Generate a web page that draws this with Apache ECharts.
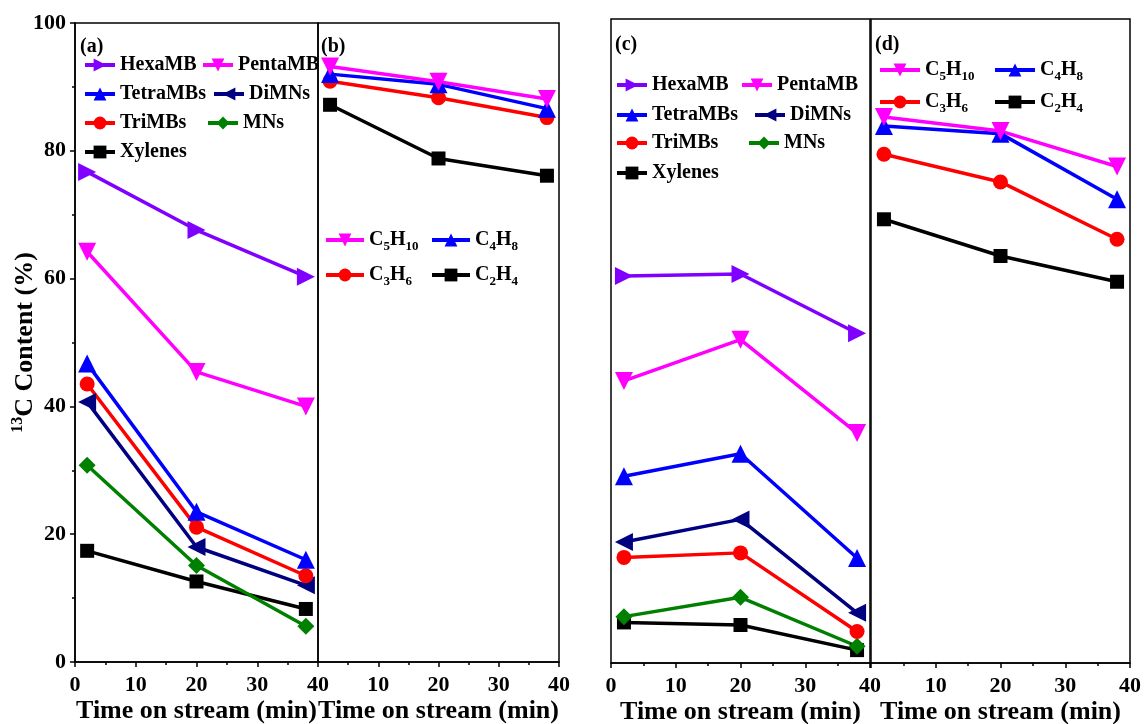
<!DOCTYPE html>
<html>
<head>
<meta charset="utf-8">
<script src="https://cdn.jsdelivr.net/npm/echarts@6/dist/echarts.min.js"></script>
<style>html,body{margin:0;padding:0;background:#fff;}#main{width:1147px;height:724px;}</style>
</head>
<body>
<div id="main"></div>
<script>
// ---- data ----
const timeMin = [2, 20, 38];
const xTicks = [0, 10, 20, 30, 40];
const yTicks = [0, 20, 40, 60, 80, 100];
// panel (a)
const hexaA = [76.7, 67.6, 60.3];
const pentaA = [64.2, 45.4, 40.0];
const tetraA = [46.7, 23.5, 16.0];
const diA = [40.7, 18.0, 12.0];
const triA = [43.5, 21.1, 13.5];
const mnA = [30.8, 15.1, 5.6];
const xylA = [17.4, 12.6, 8.3];
// panel (b)
const c5B = [93.2, 90.8, 88.1];
const c4B = [92.0, 90.4, 86.6];
const c3B = [90.9, 88.3, 85.2];
const c2B = [87.2, 78.8, 76.1];
// panel (c)
const hexaC = [60.1, 60.4, 51.2];
const pentaC = [43.8, 50.2, 35.7];
const tetraC = [29.0, 32.5, 16.3];
const diC = [18.8, 22.3, 7.8];
const triC = [16.4, 17.1, 4.9];
const mnC = [7.2, 10.2, 2.6];
const xylC = [6.3, 5.9, 2.0];
// panel (d)
const c5D = [84.8, 82.6, 77.1];
const c4D = [83.4, 82.2, 72.0];
const c3D = [79.0, 74.7, 65.8];
const c2D = [68.9, 63.2, 59.2];

const aromNames = ['HexaMB', 'PentaMB', 'TetraMBs', 'DiMNs', 'TriMBs', 'MNs', 'Xylenes'];
const olefNames = ['C5H10', 'C4H8', 'C3H6', 'C2H4'];
const panelLabels = ['(a)', '(b)', '(c)', '(d)'];
const xName = 'Time on stream (min)';

// ---- styles ----
const FONT = "'Liberation Serif','Times New Roman',serif";
const SYM = {
  right: 'path://M0,0L10,5L0,10Z',
  left: 'path://M10,0L0,5L10,10Z',
  down: 'path://M0,0L10,0L5,10Z',
  up: 'path://M5,0L10,10L0,10Z',
  circle: 'circle',
  diamond: 'diamond',
  square: 'rect'
};
const style = {
  HexaMB: {color: '#8000ff', symbol: SYM.right, size: 18},
  PentaMB: {color: '#ff00ff', symbol: SYM.down, size: 18},
  TetraMBs: {color: '#0000ff', symbol: SYM.up, size: 18},
  DiMNs: {color: '#000080', symbol: SYM.left, size: 18},
  TriMBs: {color: '#ff0000', symbol: SYM.circle, size: 15},
  MNs: {color: '#008000', symbol: SYM.diamond, size: 17},
  Xylenes: {color: '#000000', symbol: SYM.square, size: 14},
  C5H10: {color: '#ff00ff', symbol: SYM.down, size: 18},
  C4H8: {color: '#0000ff', symbol: SYM.up, size: 18},
  C3H6: {color: '#ff0000', symbol: SYM.circle, size: 15},
  C2H4: {color: '#000000', symbol: SYM.square, size: 14}
};

const grids = [
  {left: 75, top: 23, width: 243, height: 639},
  {left: 318, top: 23, width: 241, height: 639},
  {left: 611, top: 19, width: 259, height: 644},
  {left: 871, top: 19, width: 259, height: 644}
];

function series(name, gi, vals) {
  const s = style[name];
  return {
    name: name, type: 'line', xAxisIndex: gi, yAxisIndex: gi,
    data: timeMin.map((t, i) => [t, vals[i]]),
    symbol: s.symbol, symbolSize: s.size, symbolKeepAspect: true,
    lineStyle: {color: s.color, width: 3.5},
    itemStyle: {color: s.color},
    animation: false
  };
}

function subFmt(name) {
  const m = name.match(/^C(\d+)H(\d+)$/);
  if (!m) return '{b|' + name + '}';
  return '{b|C}{s|' + m[1] + '}{b|H}{s|' + m[2] + '}';
}
const legendText = {
  fontFamily: FONT, fontWeight: 'bold', fontSize: 20, color: '#000',
  rich: {
    b: {fontFamily: FONT, fontWeight: 'bold', fontSize: 20, lineHeight: 26, color: '#000'},
    s: {fontFamily: FONT, fontWeight: 'bold', fontSize: 13, lineHeight: 13, verticalAlign: 'bottom', color: '#000'}
  }
};
function legend(name, left, cy, w) {
  return {
    data: [name], left: left, top: cy - 8, padding: 0, itemGap: 0,
    itemWidth: w || 30, itemHeight: 16, selectedMode: false,
    lineStyle: {width: 4},
    formatter: subFmt, textStyle: legendText
  };
}

const legends = [
  legend('HexaMB', 83, 63), legend('PentaMB', 201, 63),
  legend('TetraMBs', 83, 92), legend('DiMNs', 212, 92),
  legend('TriMBs', 83, 121), legend('MNs', 206, 121),
  legend('Xylenes', 83, 150),
  legend('C5H10', 324, 238, 38), legend('C4H8', 430, 238, 38),
  legend('C3H6', 324, 273, 38), legend('C2H4', 430, 273, 38),
  legend('HexaMB', 615, 83), legend('PentaMB', 740, 83),
  legend('TetraMBs', 615, 113), legend('DiMNs', 753, 113),
  legend('TriMBs', 615, 141), legend('MNs', 747, 141),
  legend('Xylenes', 615, 171),
  legend('C5H10', 878, 68, 40), legend('C4H8', 993, 68, 40),
  legend('C3H6', 878, 100, 40), legend('C2H4', 993, 100, 40)
];

const axisText = {fontFamily: FONT, fontWeight: 'bold', fontSize: 22, color: '#000'};
function xAxis(gi, showMin) {
  return {
    type: 'value', gridIndex: gi, min: xTicks[0], max: xTicks[xTicks.length - 1], interval: 10,
    name: xName, nameLocation: 'middle', nameGap: 36, nameMoveOverlap: false,
    nameTextStyle: {fontFamily: FONT, fontWeight: 'bold', fontSize: 26, color: '#000'},
    axisLine: {show: true, onZero: false, lineStyle: {color: '#000', width: 1.5}},
    axisTick: {show: true, inside: false, length: 5, lineStyle: {color: '#000', width: 1.5}},
    minorTick: {show: true, splitNumber: 2, length: 3, lineStyle: {color: '#000', width: 1.5}},
    axisLabel: {show: true, margin: 12, showMinLabel: showMin, showMaxLabel: true, ...axisText},
    splitLine: {show: false}
  };
}
function yAxis(gi, show) {
  return {
    type: 'value', gridIndex: gi, min: yTicks[0], max: yTicks[yTicks.length - 1], interval: 20,
    show: show,
    name: show ? '{sup|13}{m|C Content (%)}' : '',
    nameLocation: 'middle', nameGap: 35, nameRotate: 90, nameMoveOverlap: false,
    nameTextStyle: {
      fontFamily: FONT, fontWeight: 'bold', fontSize: 26, color: '#000',
      rich: {
        sup: {fontFamily: FONT, fontWeight: 'bold', fontSize: 16, lineHeight: 16, verticalAlign: 'top', color: '#000'},
        m: {fontFamily: FONT, fontWeight: 'bold', fontSize: 26, lineHeight: 30, color: '#000'}
      }
    },
    axisLine: {show: true, lineStyle: {color: '#000', width: 1.5}},
    axisTick: {show: true, inside: false, length: 5, lineStyle: {color: '#000', width: 1.5}},
    minorTick: {show: true, splitNumber: 2, length: 3, lineStyle: {color: '#000', width: 1.5}},
    axisLabel: {show: true, margin: 9, ...axisText},
    splitLine: {show: false}
  };
}

const labelPos = [[80, 37], [321, 37], [615, 35], [875, 35]];
const option = {
  backgroundColor: '#fff',
  animation: false,
  grid: grids.map(g => ({...g, show: true, borderColor: '#000', borderWidth: 1.5, backgroundColor: 'transparent',
    containLabel: false, outerBoundsMode: 'none'})),
  xAxis: [xAxis(0, true), xAxis(1, false), xAxis(2, true), xAxis(3, false)],
  yAxis: [yAxis(0, true), yAxis(1, false), yAxis(2, false), yAxis(3, false)],
  legend: legends,
  title: panelLabels.map((t, i) => ({
    text: t, left: labelPos[i][0], top: labelPos[i][1], padding: 0,
    textStyle: {fontFamily: FONT, fontWeight: 'bold', fontSize: 20, color: '#000'}
  })),
  series: [
    series('Xylenes', 0, xylA), series('MNs', 0, mnA), series('DiMNs', 0, diA),
    series('TriMBs', 0, triA), series('TetraMBs', 0, tetraA),
    series('PentaMB', 0, pentaA), series('HexaMB', 0, hexaA),
    series('C2H4', 1, c2B), series('C3H6', 1, c3B), series('C4H8', 1, c4B), series('C5H10', 1, c5B),
    series('Xylenes', 2, xylC), series('MNs', 2, mnC), series('TriMBs', 2, triC), series('DiMNs', 2, diC),
    series('TetraMBs', 2, tetraC), series('PentaMB', 2, pentaC), series('HexaMB', 2, hexaC),
    series('C2H4', 3, c2D), series('C3H6', 3, c3D), series('C4H8', 3, c4D), series('C5H10', 3, c5D)
  ]
};
const chart = echarts.init(document.getElementById('main'), null, {renderer: 'canvas'});
chart.setOption(option);
</script>
</body>
</html>
